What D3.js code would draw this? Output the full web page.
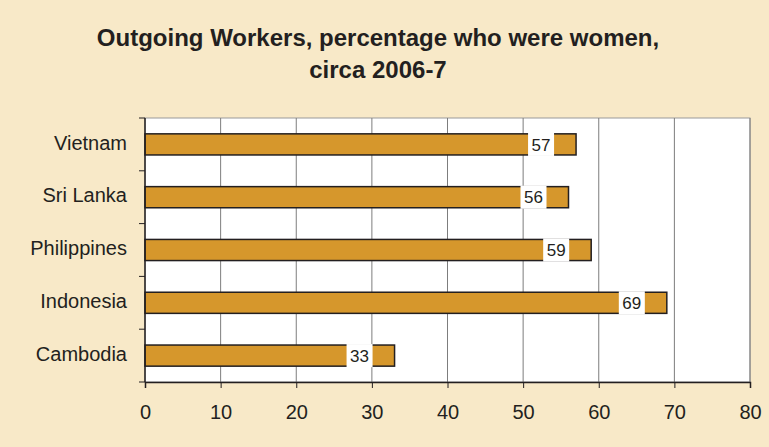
<!DOCTYPE html>
<html>
<head>
<meta charset="utf-8">
<script src="https://cdn.jsdelivr.net/npm/d3@7"></script>
<style>
  html, body { margin: 0; padding: 0; background: #F8E9C8; }
  svg { display: block; font-family: "Liberation Sans", Arial, sans-serif; }
</style>
</head>
<body>
<div id="chart"></div>
<script>
// data
const countries = ["Vietnam", "Sri Lanka", "Philippines", "Indonesia", "Cambodia"];
const womenPct = [57, 56, 59, 69, 33];
const xTicks = [0, 10, 20, 30, 40, 50, 60, 70, 80];
const titleLines = ["Outgoing Workers, percentage who were women,", "circa 2006-7"];

const width = 769, height = 447;
const margin = { top: 118, right: 19, bottom: 65, left: 145 };
const innerW = width - margin.left - margin.right;
const innerH = height - margin.top - margin.bottom;

const svg = d3.select('#chart').append('svg')
    .attr('width', width)
    .attr('height', height);

svg.append('rect')
    .attr('width', width).attr('height', height)
    .attr('fill', '#F8E9C8');

// title
svg.append('g')
    .selectAll('text')
    .data(titleLines)
    .enter()
    .append('text')
    .attr('x', 378)
    .attr('y', (d, i) => 46 + i * 32)
    .attr('text-anchor', 'middle')
    .style('font-size', '24px')
    .style('font-weight', 'bold')
    .attr('fill', '#231F20')
    .text(d => d);

const g = svg.append('g')
    .attr('transform', `translate(${margin.left},${margin.top})`);

const x = d3.scaleLinear().domain([0, 80]).range([0, innerW]);
const y = d3.scaleBand().domain(countries).range([0, innerH]).paddingInner(0.6).paddingOuter(0.3);
const yOuter = d3.scaleBand().domain(countries).range([0, innerH]);

// plot area
g.append('rect')
    .attr('width', innerW).attr('height', innerH)
    .attr('fill', '#fff')
    .attr('stroke', '#9a9a9a')
    .attr('stroke-width', 1);

// gridlines
g.append('g')
    .selectAll('line')
    .data(xTicks.slice(1))
    .enter()
    .append('line')
    .attr('x1', d => x(d)).attr('x2', d => x(d))
    .attr('y1', 0).attr('y2', innerH)
    .attr('stroke', '#7d7d7d')
    .attr('stroke-width', 1);

// bars
const data = countries.map((c, i) => ({ name: c, value: womenPct[i] }));

g.selectAll('.bar')
    .data(data)
    .enter()
    .append('rect')
    .attr('class', 'bar')
    .attr('x', 0)
    .attr('y', d => y(d.name))
    .attr('width', d => x(d.value))
    .attr('height', y.bandwidth())
    .attr('fill', '#D6972C')
    .attr('stroke', '#231F20')
    .attr('stroke-width', 1.5);

// value labels on white boxes
const lab = g.selectAll('.lab')
    .data(data)
    .enter()
    .append('g')
    .attr('class', 'lab')
    .attr('transform', d => `translate(${x(d.value) - 35},${y(d.name) + y.bandwidth() / 2})`);

lab.append('rect')
    .attr('x', -13).attr('y', -y.bandwidth() / 2 - 1)
    .attr('width', 26).attr('height', y.bandwidth() + 2)
    .attr('fill', '#fff');

lab.append('text')
    .attr('text-anchor', 'middle')
    .attr('dy', '0.36em')
    .style('font-size', '17px')
    .attr('fill', '#231F20')
    .text(d => d.value);

// x axis
const xAxis = g.append('g')
    .attr('transform', `translate(0,${innerH})`)
    .call(d3.axisBottom(x).tickValues(xTicks).tickSize(6).tickPadding(17));
xAxis.select('.domain').attr('stroke', '#231F20').attr('stroke-width', 1.5);
xAxis.selectAll('.tick line').attr('stroke', '#231F20');
xAxis.selectAll('text')
    .style('font-size', '20px')
    .attr('fill', '#231F20');

// y axis: ticks sit between categories
const yAxis = g.append('g');
yAxis.append('line')
    .attr('x1', 0).attr('x2', 0)
    .attr('y1', 0).attr('y2', innerH)
    .attr('stroke', '#231F20').attr('stroke-width', 1.5);
yAxis.selectAll('.ytick')
    .data(countries.concat(['end']))
    .enter()
    .append('line')
    .attr('x1', -6).attr('x2', 0)
    .attr('y1', (d, i) => i < countries.length ? yOuter(d) : innerH)
    .attr('y2', (d, i) => i < countries.length ? yOuter(d) : innerH)
    .attr('stroke', '#231F20');
yAxis.selectAll('.ylab')
    .data(countries)
    .enter()
    .append('text')
    .attr('x', -18)
    .attr('y', d => yOuter(d) + yOuter.bandwidth() / 2)
    .attr('dy', '0.26em')
    .attr('text-anchor', 'end')
    .style('font-size', '20px')
    .attr('fill', '#231F20')
    .text(d => d);
</script>
</body>
</html>
